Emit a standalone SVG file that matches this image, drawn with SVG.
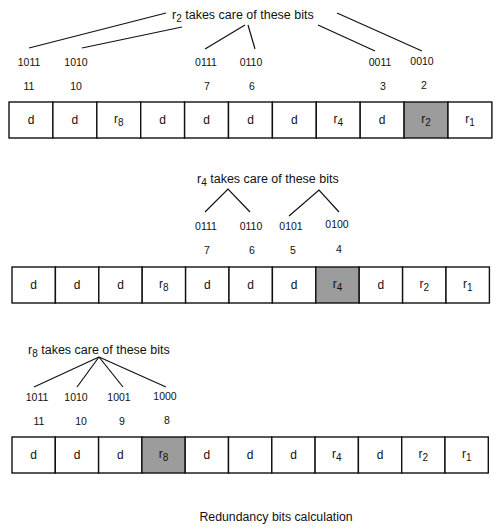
<svg xmlns="http://www.w3.org/2000/svg" width="500" height="530" viewBox="0 0 500 530">
<style>
text{font-family:"Liberation Sans",Arial,sans-serif;fill:#111;}
.t{font-size:12.5px;}
.cap{font-size:12.3px;text-anchor:middle;}
.lab{font-size:10.5px;text-anchor:middle;}
.c{font-size:12px;text-anchor:middle;}
.sub{font-size:10px;}
.cell{fill:#fff;stroke:#111;stroke-width:1.4;}
.sh{fill:#9c9c9c;stroke:#111;stroke-width:1.4;}
.ln{stroke:#111;stroke-width:1.2;fill:none;}
</style>
<rect width="500" height="530" fill="#fff"/>

<!-- Row 1 -->
<g id="row1">
<g id="r1c11"><rect class="cell" x="9" y="102" width="43.9" height="36"/><text class="c" x="31" y="124">d</text></g>
<g id="r1c10"><rect class="cell" x="52.9" y="102" width="43.9" height="36"/><text class="c" x="74.9" y="124">d</text></g>
<g id="r1c9"><rect class="cell" x="96.8" y="102" width="43.9" height="36"/><text class="c" x="118.8" y="123">r<tspan class="sub" dy="3">8</tspan></text></g>
<g id="r1c8"><rect class="cell" x="140.7" y="102" width="43.9" height="36"/><text class="c" x="162.7" y="124">d</text></g>
<g id="r1c7"><rect class="cell" x="184.6" y="102" width="43.9" height="36"/><text class="c" x="206.6" y="124">d</text></g>
<g id="r1c6"><rect class="cell" x="228.5" y="102" width="43.9" height="36"/><text class="c" x="250.5" y="124">d</text></g>
<g id="r1c5"><rect class="cell" x="272.4" y="102" width="43.9" height="36"/><text class="c" x="294.4" y="124">d</text></g>
<g id="r1c4"><rect class="cell" x="316.3" y="102" width="43.9" height="36"/><text class="c" x="338.3" y="123">r<tspan class="sub" dy="3">4</tspan></text></g>
<g id="r1c3"><rect class="cell" x="360.2" y="102" width="43.9" height="36"/><text class="c" x="382.2" y="124">d</text></g>
<g id="r1c2"><rect class="sh" x="404.1" y="102" width="43.9" height="36"/><text class="c" x="426.1" y="123">r<tspan class="sub" dy="3">2</tspan></text></g>
<g id="r1c1"><rect class="cell" x="448" y="102" width="43.9" height="36"/><text class="c" x="470" y="123">r<tspan class="sub" dy="3">1</tspan></text></g>
</g>
<g id="row1labels">
<text class="t" x="172" y="19">r<tspan class="sub" dy="3">2</tspan><tspan dy="-3"> takes care of these bits</tspan></text>
<text class="lab" x="29" y="66">1011</text><text class="lab" x="29" y="90">11</text>
<text class="lab" x="76" y="66">1010</text><text class="lab" x="76" y="90">10</text>
<text class="lab" x="206" y="66">0111</text><text class="lab" x="207" y="90">7</text>
<text class="lab" x="251" y="66">0110</text><text class="lab" x="252" y="90">6</text>
<text class="lab" x="380" y="66">0011</text><text class="lab" x="383" y="90">3</text>
<text class="lab" x="422" y="65">0010</text><text class="lab" x="424" y="89">2</text>
</g>

<!-- Row 2 -->
<g id="row2">
<g id="r2c11"><rect class="cell" x="12" y="267" width="43.4" height="36"/><text class="c" x="33.7" y="289">d</text></g>
<g id="r2c10"><rect class="cell" x="55.4" y="267" width="43.4" height="36"/><text class="c" x="77.1" y="289">d</text></g>
<g id="r2c9"><rect class="cell" x="98.8" y="267" width="43.4" height="36"/><text class="c" x="120.5" y="289">d</text></g>
<g id="r2c8"><rect class="cell" x="142.2" y="267" width="43.4" height="36"/><text class="c" x="163.9" y="288">r<tspan class="sub" dy="3">8</tspan></text></g>
<g id="r2c7"><rect class="cell" x="185.6" y="267" width="43.4" height="36"/><text class="c" x="207.3" y="289">d</text></g>
<g id="r2c6"><rect class="cell" x="229" y="267" width="43.4" height="36"/><text class="c" x="250.7" y="289">d</text></g>
<g id="r2c5"><rect class="cell" x="272.4" y="267" width="43.4" height="36"/><text class="c" x="294.1" y="289">d</text></g>
<g id="r2c4"><rect class="sh" x="315.8" y="267" width="43.4" height="36"/><text class="c" x="337.5" y="288">r<tspan class="sub" dy="3">4</tspan></text></g>
<g id="r2c3"><rect class="cell" x="359.2" y="267" width="43.4" height="36"/><text class="c" x="380.9" y="289">d</text></g>
<g id="r2c2"><rect class="cell" x="402.6" y="267" width="43.4" height="36"/><text class="c" x="424.3" y="288">r<tspan class="sub" dy="3">2</tspan></text></g>
<g id="r2c1"><rect class="cell" x="446" y="267" width="43.4" height="36"/><text class="c" x="467.7" y="288">r<tspan class="sub" dy="3">1</tspan></text></g>
</g>
<g id="row2labels">
<text class="t" x="197" y="183">r<tspan class="sub" dy="3">4</tspan><tspan dy="-3"> takes care of these bits</tspan></text>
<text class="lab" x="206" y="230">0111</text><text class="lab" x="207" y="254">7</text>
<text class="lab" x="251" y="230">0110</text><text class="lab" x="252" y="254">6</text>
<text class="lab" x="291" y="230">0101</text><text class="lab" x="293" y="254">5</text>
<text class="lab" x="337" y="228">0100</text><text class="lab" x="339" y="253">4</text>
</g>

<!-- Row 3 -->
<g id="row3">
<g id="r3c11"><rect class="cell" x="12" y="437" width="43.3" height="36"/><text class="c" x="33.7" y="459">d</text></g>
<g id="r3c10"><rect class="cell" x="55.3" y="437" width="43.3" height="36"/><text class="c" x="77" y="459">d</text></g>
<g id="r3c9"><rect class="cell" x="98.6" y="437" width="43.3" height="36"/><text class="c" x="120.3" y="459">d</text></g>
<g id="r3c8"><rect class="sh" x="141.9" y="437" width="43.3" height="36"/><text class="c" x="163.6" y="458">r<tspan class="sub" dy="3">8</tspan></text></g>
<g id="r3c7"><rect class="cell" x="185.2" y="437" width="43.3" height="36"/><text class="c" x="206.9" y="459">d</text></g>
<g id="r3c6"><rect class="cell" x="228.5" y="437" width="43.3" height="36"/><text class="c" x="250.2" y="459">d</text></g>
<g id="r3c5"><rect class="cell" x="271.8" y="437" width="43.3" height="36"/><text class="c" x="293.5" y="459">d</text></g>
<g id="r3c4"><rect class="cell" x="315.1" y="437" width="43.3" height="36"/><text class="c" x="336.8" y="458">r<tspan class="sub" dy="3">4</tspan></text></g>
<g id="r3c3"><rect class="cell" x="358.4" y="437" width="43.3" height="36"/><text class="c" x="380.1" y="459">d</text></g>
<g id="r3c2"><rect class="cell" x="401.7" y="437" width="43.3" height="36"/><text class="c" x="423.4" y="458">r<tspan class="sub" dy="3">2</tspan></text></g>
<g id="r3c1"><rect class="cell" x="445" y="437" width="43.3" height="36"/><text class="c" x="466.7" y="458">r<tspan class="sub" dy="3">1</tspan></text></g>
</g>
<g id="row3labels">
<text class="t" x="28" y="354">r<tspan class="sub" dy="3">8</tspan><tspan dy="-3"> takes care of these bits</tspan></text>
<text class="lab" x="37" y="401">1011</text><text class="lab" x="39" y="425">11</text>
<text class="lab" x="76" y="401">1010</text><text class="lab" x="81" y="425">10</text>
<text class="lab" x="119" y="401">1001</text><text class="lab" x="122" y="425">9</text>
<text class="lab" x="165" y="400">1000</text><text class="lab" x="167" y="424">8</text>
</g>

<g id="connectors">
<line class="ln" x1="29" y1="48" x2="166" y2="13"/>
<line class="ln" x1="82" y1="48" x2="182" y2="27"/>
<line class="ln" x1="205" y1="49" x2="245" y2="25"/>
<line class="ln" x1="255" y1="49" x2="248" y2="25"/>
<line class="ln" x1="318" y1="25" x2="375" y2="51"/>
<line class="ln" x1="337" y1="13" x2="422" y2="51"/>
<polyline class="ln" points="205,212 228,189 250,212"/>
<polyline class="ln" points="289,216 319,190 339,212"/>
<line class="ln" x1="99" y1="357" x2="34" y2="387"/>
<line class="ln" x1="99" y1="357" x2="77" y2="387"/>
<line class="ln" x1="99" y1="357" x2="123" y2="387"/>
<line class="ln" x1="99" y1="357" x2="166" y2="387"/>
</g>

<text id="caption" class="cap" x="276" y="521">Redundancy bits calculation</text>
</svg>
